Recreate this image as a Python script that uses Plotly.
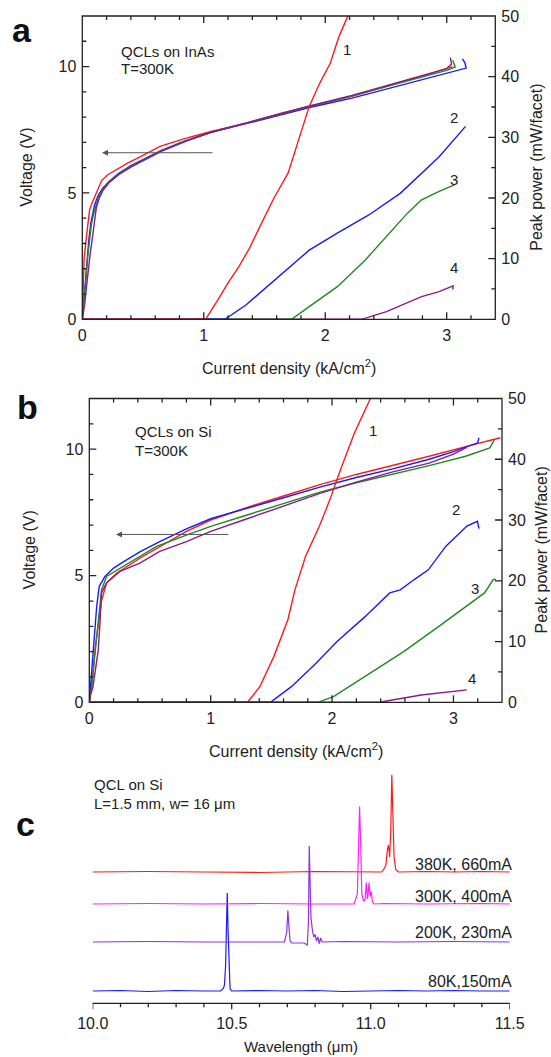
import plotly.graph_objects as go

FONT = "Liberation Sans, Arial, sans-serif"
TXT = "#222222"
AX = "#222222"
W, H = 551, 1057

# ---------------- Panel a : QCLs on InAs ----------------
curve_labels = ["1", "2", "3", "4"]
iv_colors = ["#ff1a1a", "#1a1aff", "#1f8a1f", "#8b1a8b"]

a_v_red_j = [0, 0.005, 0.015, 0.031, 0.045, 0.06, 0.08, 0.104, 0.13, 0.16, 0.21, 0.28, 0.38, 0.48, 0.64, 0.855, 1.06, 1.35, 1.64, 1.87, 2.22, 2.5, 2.79, 3.05]
a_v_red = [0, 1.0, 2.4, 3.14, 3.8, 4.33, 4.6, 4.85, 5.15, 5.5, 5.72, 5.92, 6.2, 6.44, 6.84, 7.17, 7.43, 7.76, 8.16, 8.42, 8.82, 9.21, 9.61, 10.0]
a_v_blue_j = [0, 0.01, 0.025, 0.04, 0.055, 0.07, 0.085, 0.1, 0.13, 0.17, 0.22, 0.3, 0.4, 0.5, 0.65, 0.85, 1.06, 1.35, 1.64, 1.87, 2.22, 2.5, 2.79, 3.0, 3.16, 3.15, 3.13]
a_v_blue = [0, 0.6, 1.5, 2.4, 3.2, 3.8, 4.2, 4.5, 4.9, 5.2, 5.45, 5.78, 6.08, 6.33, 6.68, 7.07, 7.4, 7.74, 8.1, 8.38, 8.75, 9.1, 9.45, 9.72, 9.94, 10.15, 10.3]
a_v_green_j = [0, 0.015, 0.03, 0.045, 0.06, 0.075, 0.09, 0.105, 0.13, 0.17, 0.22, 0.3, 0.4, 0.5, 0.65, 0.85, 1.06, 1.35, 1.64, 1.87, 2.22, 2.5, 2.79, 3.0, 3.07, 3.06, 3.05]
a_v_green = [0, 0.7, 1.6, 2.5, 3.2, 3.75, 4.1, 4.4, 4.8, 5.15, 5.42, 5.75, 6.05, 6.3, 6.66, 7.05, 7.4, 7.76, 8.14, 8.42, 8.84, 9.2, 9.58, 9.85, 9.98, 10.15, 10.25]
a_v_purple_j = [0, 0.02, 0.035, 0.05, 0.065, 0.08, 0.09, 0.1, 0.115, 0.14, 0.17, 0.22, 0.3, 0.4, 0.5, 0.65, 0.85, 1.06, 1.35, 1.64, 1.87, 2.22, 2.5, 2.79, 3.0, 3.04, 3.03]
a_v_purple = [0, 0.6, 1.3, 2.0, 2.6, 3.1, 3.5, 3.95, 4.4, 4.8, 5.1, 5.4, 5.72, 6.02, 6.28, 6.64, 7.04, 7.4, 7.77, 8.15, 8.44, 8.86, 9.24, 9.63, 9.92, 10.1, 10.35]

a_p_red_j = [0, 1.015, 1.116, 1.2, 1.289, 1.376, 1.448, 1.52, 1.578, 1.694, 1.781, 1.868, 1.954, 2.041, 2.113, 2.186]
a_p_red = [0, 0, 3.2, 6.0, 8.7, 11.7, 14.7, 17.5, 20.0, 24.1, 29.6, 35.1, 38.9, 42.2, 46.6, 50.0]
a_p_blue_j = [0, 1.174, 1.347, 1.52, 1.694, 1.868, 2.099, 2.359, 2.62, 2.938, 3.155]
a_p_blue = [0, 0, 2.36, 5.38, 8.41, 11.4, 14.2, 17.2, 20.8, 26.8, 31.8]
a_p_green_j = [0, 1.723, 1.868, 2.1, 2.33, 2.504, 2.677, 2.793, 2.938, 3.068]
a_p_green = [0, 0, 2.08, 5.38, 9.79, 13.6, 17.5, 19.7, 21.1, 22.2]
a_p_purple_j = [0, 2.3, 2.504, 2.793, 2.938, 3.053, 3.05]
a_p_purple = [0, 0, 1.26, 3.74, 4.56, 5.5, 4.9]

# ---------------- Panel b : QCLs on Si ----------------
b_v_red_j = [0, 0.015, 0.03, 0.05, 0.074, 0.1, 0.142, 0.225, 0.42, 0.6, 0.8, 1.0, 1.3, 1.6, 1.9, 2.2, 2.5, 2.8, 3.1, 3.386]
b_v_red = [0, 0.5, 1.15, 2.2, 3.13, 4.0, 4.71, 5.1, 5.7, 6.2, 6.75, 7.2, 7.7, 8.15, 8.6, 9.0, 9.35, 9.72, 10.1, 10.45]
b_v_blue_j = [0, 0.01, 0.02, 0.033, 0.061, 0.082, 0.129, 0.2, 0.28, 0.42, 0.58, 0.8, 1.0, 1.3, 1.6, 1.9, 2.2, 2.5, 2.8, 3.0, 3.15, 3.2, 3.21]
b_v_blue = [0, 0.7, 1.3, 2.07, 3.79, 4.58, 4.97, 5.3, 5.55, 5.95, 6.35, 6.85, 7.25, 7.68, 8.08, 8.5, 8.88, 9.22, 9.6, 9.9, 10.15, 10.25, 10.45]
b_v_green_j = [0, 0.02, 0.04, 0.061, 0.085, 0.101, 0.142, 0.308, 0.555, 0.8, 1.0, 1.3, 1.6, 1.9, 2.2, 2.5, 2.8, 3.1, 3.3, 3.34]
b_v_green = [0, 0.62, 1.6, 2.6, 3.79, 4.45, 4.97, 5.44, 6.16, 6.6, 6.95, 7.4, 7.85, 8.3, 8.67, 9.0, 9.35, 9.72, 10.05, 10.39]
b_v_purple_j = [0, 0.006, 0.03, 0.047, 0.074, 0.088, 0.101, 0.142, 0.252, 0.417, 0.58, 0.8, 1.0, 1.3, 1.6, 1.9, 2.2, 2.5, 2.8, 3.0, 3.11]
b_v_purple = [0, 0.22, 0.6, 1.15, 2.07, 3.13, 4.32, 4.72, 5.17, 5.5, 5.96, 6.35, 6.75, 7.25, 7.75, 8.25, 8.7, 9.1, 9.45, 9.8, 10.07]

b_p_red_j = [0, 1.304, 1.405, 1.52, 1.636, 1.694, 1.781, 1.896, 1.983, 2.07, 2.186, 2.316]
b_p_red = [0, 0, 2.57, 7.52, 13.6, 18.5, 24.0, 29.0, 33.4, 38.3, 44.4, 50.0]
b_p_blue_j = [0, 1.492, 1.665, 1.868, 2.041, 2.272, 2.475, 2.562, 2.677, 2.793, 2.938, 3.111, 3.198, 3.21]
b_p_blue = [0, 0, 2.57, 6.44, 10.0, 14.1, 18.0, 18.5, 20.2, 21.8, 25.7, 29.0, 29.8, 28.6]
b_p_green_j = [0, 1.882, 2.012, 2.272, 2.59, 2.88, 3.082, 3.256, 3.328, 3.35]
b_p_green = [0, 0, 0.92, 4.22, 8.35, 12.5, 15.5, 18.0, 20.2, 20.2]
b_p_purple_j = [0, 2.389, 2.735, 3.082, 3.11]
b_p_purple = [0, 0, 1.2, 2.03, 2.05]

# ---------------- Panel c : spectra ----------------
spec_labels = ["80K,150mA", "200K, 230mA", "300K, 400mA", "380K, 660mA"]
spec_colors = ["#1a1aff", "#8f2ff0", "#ff22ff", "#ff1a1a"]
spec_offsets = [0, 0.98, 1.74, 2.38]

c_wl_80 = [10.0, 10.1, 10.2, 10.3, 10.4, 10.46, 10.47, 10.474, 10.478, 10.481, 10.484, 10.487, 10.49, 10.494, 10.5, 10.6, 10.7, 10.8, 10.9, 11.0, 11.1, 11.2, 11.3, 11.4, 11.5]
c_i_80 = [0, 0.01, -0.01, 0.01, 0, 0, 0.05, 0.12, 0.5, 1.5, 1.96, 1.2, 0.4, 0.05, 0, 0.01, 0, 0.01, -0.01, 0, 0.01, 0, 0.01, 0, 0]
c_wl_200 = [10.0, 10.2, 10.4, 10.6, 10.69, 10.698, 10.702, 10.706, 10.71, 10.716, 10.76, 10.772, 10.776, 10.779, 10.782, 10.785, 10.79, 10.795, 10.8, 10.805, 10.81, 10.815, 10.82, 10.825, 10.83, 10.9, 11.1, 11.3, 11.5]
c_i_200 = [0, 0.01, 0, 0.01, 0, 0.2, 0.63, 0.3, 0.02, -0.02, -0.02, -0.06, 0.4, 1.92, 1.2, 0.5, 0.25, 0.1, 0.15, 0.02, 0.1, -0.03, 0.08, 0, 0, 0.01, 0, 0.01, 0]
c_wl_300 = [10.0, 10.2, 10.4, 10.6, 10.8, 10.94, 10.952, 10.956, 10.96, 10.964, 10.968, 10.975, 10.98, 10.984, 10.988, 10.991, 10.994, 10.998, 11.002, 11.006, 11.012, 11.05, 11.2, 11.4, 11.5]
c_i_300 = [0, 0.01, 0, 0.01, 0, 0, 0.2, 1.0, 1.95, 1.2, 0.2, 0.05, 0.1, 0.43, 0.1, 0.2, 0.43, 0.15, 0.25, 0.05, 0, 0.01, 0, 0.01, 0]
c_wl_380 = [10.0, 10.2, 10.4, 10.6, 10.8, 11.0, 11.04, 11.05, 11.055, 11.06, 11.064, 11.068, 11.072, 11.076, 11.08, 11.084, 11.09, 11.1, 11.2, 11.3, 11.4, 11.5]
c_i_380 = [0, 0.01, 0, -0.01, 0.01, 0, 0, 0.08, 0.15, 0.45, 0.54, 0.3, 0.8, 1.94, 1.2, 0.3, 0.05, 0, 0.01, 0, 0.01, 0]

# tick values of the axes
j_major = [0, 1, 2, 3]
j_minor = [0.2, 0.4, 0.6, 0.8, 1.2, 1.4, 1.6, 1.8, 2.2, 2.4, 2.6, 2.8, 3.2]
v_major = [5, 10]
v_minor = [1, 2, 3, 4, 6, 7, 8, 9, 11]
p_major = [10, 20, 30, 40]
p_minor = [5, 15, 25, 35, 45]
wl_major = [10.0, 10.5, 11.0, 11.5]
wl_minor = [10.1, 10.2, 10.3, 10.4, 10.6, 10.7, 10.8, 10.9, 11.1, 11.2, 11.3, 11.4]


def px(x):
    return x / W


def py(y):
    return 1 - y / H


fig = go.Figure()

a_v = [(a_v_red_j, a_v_red), (a_v_blue_j, a_v_blue), (a_v_green_j, a_v_green), (a_v_purple_j, a_v_purple)]
a_p = [(a_p_red_j, a_p_red), (a_p_blue_j, a_p_blue), (a_p_green_j, a_p_green), (a_p_purple_j, a_p_purple)]
b_v = [(b_v_red_j, b_v_red), (b_v_blue_j, b_v_blue), (b_v_green_j, b_v_green), (b_v_purple_j, b_v_purple)]
b_p = [(b_p_red_j, b_p_red), (b_p_blue_j, b_p_blue), (b_p_green_j, b_p_green), (b_p_purple_j, b_p_purple)]

for order in [3, 2, 1, 0]:
    j, p = a_p[order]
    fig.add_trace(go.Scatter(x=j, y=p, mode="lines", line=dict(color=iv_colors[order], width=1.4),
                             xaxis="x", yaxis="y2", showlegend=False, hoverinfo="skip"))
    j, p = b_p[order]
    fig.add_trace(go.Scatter(x=j, y=p, mode="lines", line=dict(color=iv_colors[order], width=1.4),
                             xaxis="x2", yaxis="y4", showlegend=False, hoverinfo="skip"))
for order in [0, 1, 2, 3]:
    j, v = a_v[order]
    fig.add_trace(go.Scatter(x=j, y=v, mode="lines", line=dict(color=iv_colors[order], width=1.4),
                             xaxis="x", yaxis="y", showlegend=False, hoverinfo="skip"))
    j, v = b_v[order]
    fig.add_trace(go.Scatter(x=j, y=v, mode="lines", line=dict(color=iv_colors[order], width=1.4),
                             xaxis="x2", yaxis="y3", showlegend=False, hoverinfo="skip"))

spectra = [(c_wl_80, c_i_80), (c_wl_200, c_i_200), (c_wl_300, c_i_300), (c_wl_380, c_i_380)]
for k, (wl, inten) in enumerate(spectra):
    fig.add_trace(go.Scatter(x=wl, y=[spec_offsets[k] + v for v in inten], mode="lines",
                             line=dict(color=spec_colors[k], width=1.2),
                             xaxis="x3", yaxis="y5", showlegend=False, hoverinfo="skip"))

tick_common = dict(showline=False, showgrid=False, zeroline=False, ticks="", automargin=False,
                   ticklabelstandoff=5, tickfont=dict(family=FONT, size=16, color=TXT))

xa = dict(tick_common, range=[0, 3.4], tickvals=j_major, ticktext=[str(v) for v in j_major])
yl = dict(tick_common, range=[0, 12], tickvals=[0] + v_major)
yr = dict(tick_common, range=[0, 50], tickvals=[0] + p_major + [50], side="right")

fig.update_layout(
    template="none",
    width=W, height=H, margin=dict(l=0, r=0, t=0, b=0, pad=0),
    paper_bgcolor="white", plot_bgcolor="rgba(0,0,0,0)",
    font=dict(family=FONT, size=15, color=TXT),
    xaxis=dict(xa, domain=[px(82.3), px(495.3)], anchor="y"),
    yaxis=dict(yl, domain=[py(319.3), py(16)], anchor="x"),
    yaxis2=dict(yr, overlaying="y", anchor="x"),
    xaxis2=dict(xa, domain=[px(89.3), px(502)], anchor="y3"),
    yaxis3=dict(yl, domain=[py(702.3), py(398.5)], anchor="x2"),
    yaxis4=dict(yr, overlaying="y3", anchor="x2"),
    xaxis3=dict(tick_common, range=[10.0, 11.5], tickvals=wl_major, tickformat=".1f",
                ticklabelstandoff=9, domain=[px(92.7), px(509.7)], anchor="y5"),
    yaxis5=dict(visible=False, range=[-0.246, 4.52], domain=[py(1003.3), py(765)], anchor="x3",
                automargin=False, showgrid=False, zeroline=False),
)

# ---- axis frames and tick marks (drawn through the axes' own scales) ----
shapes = []
LW = 1.3


def seg(xref, yref, x0, y0, x1, y1):
    shapes.append(dict(type="line", xref=xref, yref=yref, x0=x0, y0=y0, x1=x1, y1=y1,
                       line=dict(color=AX, width=LW), layer="above"))


for xr, yv, yp, hpx, wpx in [("x", "y", "y2", 303.3, 413.0), ("x2", "y3", "y4", 303.8, 412.7)]:
    xd, yd = xr + " domain", yv + " domain"
    shapes.append(dict(type="rect", xref=xd, yref=yd, x0=0, y0=0, x1=1, y1=1,
                       line=dict(color=AX, width=LW), layer="above"))
    for vals, ln in [(j_major, 7), (j_minor, 4)]:
        f = ln / hpx
        for v in vals:
            seg(xr, yd, v, 0, v, f)
            seg(xr, yd, v, 1, v, 1 - f)
    for vals, ln in [(v_major, 7), (v_minor, 4)]:
        f = ln / wpx
        for v in vals:
            seg(xd, yv, 0, v, f, v)
    for vals, ln in [(p_major, 7), (p_minor, 4)]:
        f = ln / wpx
        for v in vals:
            seg(xd, yp, 1, v, 1 - f, v)

seg("x3 domain", "y5 domain", 0, 0, 1, 0)
for vals, ln in [(wl_major, 6), (wl_minor, 4)]:
    f = ln / 238.3
    for v in vals:
        seg("x3", "y5 domain", v, 0, v, -f)

fig.update_layout(shapes=shapes)

ann = []


def txt(x, y, s, xref="paper", yref="paper", size=15, xanchor="center", yanchor="middle", angle=0, bold=False):
    ann.append(dict(x=x, y=y, xref=xref, yref=yref, text=("<b>%s</b>" % s) if bold else s,
                    showarrow=False, xanchor=xanchor, yanchor=yanchor, textangle=angle,
                    font=dict(family=FONT, size=size, color="#111111" if bold else TXT)))


txt(px(22), py(30), "a", size=34, bold=True)
txt(px(27), py(407), "b", size=34, bold=True)
txt(px(25), py(824), "c", size=34, bold=True)

txt(0.30, 10.59, "QCLs on InAs", "x", "y", xanchor="left")
txt(0.30, 9.91, "T=300K", "x", "y", xanchor="left")
for lab, (xx, yy) in zip(curve_labels, [(2.18, 44.4), (3.06, 33.2), (3.06, 23.0), (3.06, 8.5)]):
    txt(xx, yy, lab, "x", "y2")
txt(px(288.8), py(367), "Current density (kA/cm<sup>2</sup>)", size=16)
txt(px(27), py(167.7), "Voltage (V)", size=16, angle=-90)
txt(px(537), py(167.7), "Peak power (mW/facet)", size=16, angle=-90)

txt(0.364, 10.7, "QCLs on Si", "x2", "y3", xanchor="left")
txt(0.364, 9.96, "T=300K", "x2", "y3", xanchor="left")
for lab, (xx, yy) in zip(curve_labels, [(2.34, 44.7), (3.02, 31.7), (3.18, 18.8), (3.15, 4.0)]):
    txt(xx, yy, lab, "x2", "y4")
txt(px(295.6), py(750), "Current density (kA/cm<sup>2</sup>)", size=16)
txt(px(29), py(550.4), "Voltage (V)", size=16, angle=-90)
txt(px(541), py(550.4), "Peak power (mW/facet)", size=16, angle=-90)

txt(px(92.4), py(784), "QCL on Si", xanchor="left")
txt(px(92.4), py(803), "L=1.5 mm, w= 16 μm", xanchor="left")
for lab, ypix in zip(spec_labels, [981.7, 932.7, 896, 864]):
    txt(px(514), py(ypix), lab, size=16, xanchor="right")
txt(px(301), py(1046), "Wavelength (μm)", size=15)

ann.append(dict(x=0.162, y=6.59, ax=1.084, ay=6.59, xref="x", yref="y", axref="x", ayref="y",
                showarrow=True, arrowhead=2, arrowsize=1.2, arrowwidth=1, arrowcolor="#555555", text=""))
ann.append(dict(x=0.22, y=6.63, ax=1.158, ay=6.63, xref="x2", yref="y3", axref="x2", ayref="y3",
                showarrow=True, arrowhead=2, arrowsize=1.2, arrowwidth=1, arrowcolor="#555555", text=""))

fig.update_layout(annotations=ann)

post = "document.body.style.margin='0';document.body.style.overflow='hidden';"
fig.write_html("out.html", config={"displayModeBar": False}, post_script=post)
